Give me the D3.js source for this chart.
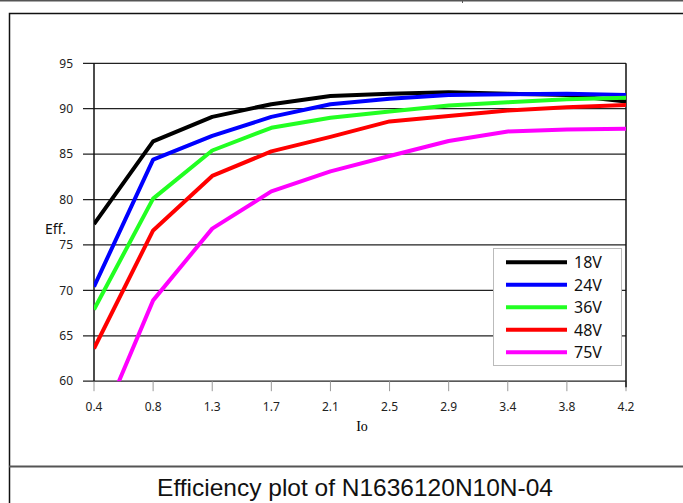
<!DOCTYPE html>
<meta charset="utf-8">
<script src="https://d3js.org/d3.v7.min.js"></script>
<style>
  body { margin: 0; background: #fff; }
  text { font-family: "Noto Sans", sans-serif; }
</style>
<div id="my_dataviz"></div>
<script>

// categories on the x axis (output current, A)
var currents = ["0.4", "0.8", "1.3", "1.7", "2.1", "2.5", "2.9", "3.4", "3.8", "4.2"];
var yTicks = [60, 65, 70, 75, 80, 85, 90, 95];

// efficiency per input voltage
var eff18 = [77.3, 86.4, 89.1, 90.5, 91.4, 91.65, 91.8, 91.65, 91.5, 90.8];
var eff24 = [70.4, 84.4, 87.0, 89.1, 90.5, 91.1, 91.5, 91.6, 91.65, 91.5];
var eff36 = [67.9, 80.1, 85.4, 87.9, 89.0, 89.7, 90.35, 90.7, 91.05, 91.2];
var eff48 = [63.6, 76.6, 82.6, 85.3, 86.9, 88.6, 89.2, 89.8, 90.15, 90.4];
var eff75 = [53.5, 68.9, 76.8, 80.9, 83.1, 84.8, 86.45, 87.5, 87.7, 87.8];

var seriesNames = ["18V", "24V", "36V", "48V", "75V"];
var seriesColors = ["#000000", "#0000ff", "#22ff22", "#ff0000", "#ff00ff"];
var seriesValues = [eff18, eff24, eff36, eff48, eff75];

var W = 683, H = 503;
var svg = d3.select("#my_dataviz")
  .append("svg")
    .attr("width", W)
    .attr("height", H);

// page frame
svg.append("line").attr("x1", 0).attr("x2", W).attr("y1", 0.5).attr("y2", 0.5)
  .attr("stroke", "#555").attr("stroke-width", 2);
svg.append("line").attr("x1", 462.5).attr("x2", 462.5).attr("y1", 0).attr("y2", 3)
  .attr("stroke", "#555");
svg.append("path")
  .attr("d", "M9.5," + H + "V13.5H" + W)
  .attr("fill", "none").attr("stroke", "#111").attr("stroke-width", 1.5);
svg.append("line").attr("x1", 9).attr("x2", W).attr("y1", 466.5).attr("y2", 466.5)
  .attr("stroke", "#555").attr("stroke-width", 2);

var plotLeft = 94, plotRight = 626, plotTop = 63.3, plotBottom = 381.2;

var x = d3.scalePoint().domain(currents).range([plotLeft, plotRight]);
var y = d3.scaleLinear().domain([60, 95]).range([plotBottom, plotTop]);

// horizontal grid lines with left ticks
svg.append("g")
  .selectAll("line")
  .data(yTicks)
  .join("line")
    .attr("x1", plotLeft - 11)
    .attr("x2", plotRight)
    .attr("y1", function(d) { return y(d); })
    .attr("y2", function(d) { return y(d); })
    .attr("stroke", "#222")
    .attr("stroke-width", 1.2);

// y tick labels
svg.append("g")
  .selectAll("text")
  .data(yTicks)
  .join("text")
    .attr("x", 73)
    .attr("y", function(d) { return y(d); })
    .attr("dy", "0.35em")
    .attr("text-anchor", "end")
    .style("font-size", "12px")
    .attr("fill", "#222")
    .text(function(d) { return d; });

// x ticks and labels
svg.append("g")
  .selectAll("line")
  .data(currents)
  .join("line")
    .attr("x1", function(d) { return x(d); })
    .attr("x2", function(d) { return x(d); })
    .attr("y1", plotBottom)
    .attr("y2", plotBottom + 10)
    .attr("stroke", "#999");

svg.append("g")
  .selectAll("text")
  .data(currents)
  .join("text")
    .attr("x", function(d) { return x(d); })
    .attr("y", 407)
    .attr("dy", "0.35em")
    .attr("text-anchor", "middle")
    .style("font-size", "12px")
    .attr("fill", "#222")
    .text(function(d) { return d; });

// plot borders left and right
svg.append("line").attr("x1", plotLeft).attr("x2", plotLeft).attr("y1", plotTop).attr("y2", plotBottom)
  .attr("stroke", "#111").attr("stroke-width", 1.5);
svg.append("line").attr("x1", plotRight).attr("x2", plotRight).attr("y1", plotTop).attr("y2", plotBottom + 6)
  .attr("stroke", "#111").attr("stroke-width", 1.5);

// axis titles
svg.append("text")
  .attr("x", 45).attr("y", 234)
  .style("font-size", "14px")
  .attr("fill", "#111")
  .text("Eff.");

svg.append("text")
  .attr("x", 362).attr("y", 431)
  .attr("text-anchor", "middle")
  .style("font-family", "'Liberation Serif', serif")
  .style("font-size", "14px")
  .text("Io");

// clip the curves to the plot area
svg.append("clipPath").attr("id", "plotclip")
  .append("rect")
    .attr("x", plotLeft).attr("y", plotTop - 5)
    .attr("width", plotRight - plotLeft).attr("height", plotBottom - plotTop + 5);

var line = d3.line()
  .x(function(d, i) { return x(currents[i]); })
  .y(function(d) { return y(d); });

svg.append("g")
  .attr("clip-path", "url(#plotclip)")
  .selectAll("path")
  .data(seriesValues)
  .join("path")
    .attr("d", function(d) { return line(d); })
    .attr("fill", "none")
    .attr("stroke", function(d, i) { return seriesColors[i]; })
    .attr("stroke-width", 4)
    .attr("stroke-linejoin", "round");

// legend
var legend = svg.append("g");
legend.append("rect")
  .attr("x", 493.5).attr("y", 248.5)
  .attr("width", 128).attr("height", 117)
  .attr("fill", "#fff")
  .attr("stroke", "#bbb");

var rows = legend.selectAll("g")
  .data(seriesNames)
  .join("g")
    .attr("transform", function(d, i) { return "translate(0," + (262.3 + i * 22.5) + ")"; });

rows.append("line")
  .attr("x1", 506).attr("x2", 567)
  .attr("stroke", function(d, i) { return seriesColors[i]; })
  .attr("stroke-width", 4);

rows.append("text")
  .attr("x", 574)
  .attr("dy", "0.36em")
  .style("font-size", "16px")
  .attr("fill", "#111")
  .text(function(d) { return d; });

// caption
svg.append("text")
  .attr("x", 355).attr("y", 496)
  .attr("text-anchor", "middle")
  .style("font-family", "'Liberation Sans', Arial, sans-serif")
  .style("font-size", "24.5px")
  .attr("fill", "#111")
  .text("Efficiency plot of N1636120N10N-04");

</script>
